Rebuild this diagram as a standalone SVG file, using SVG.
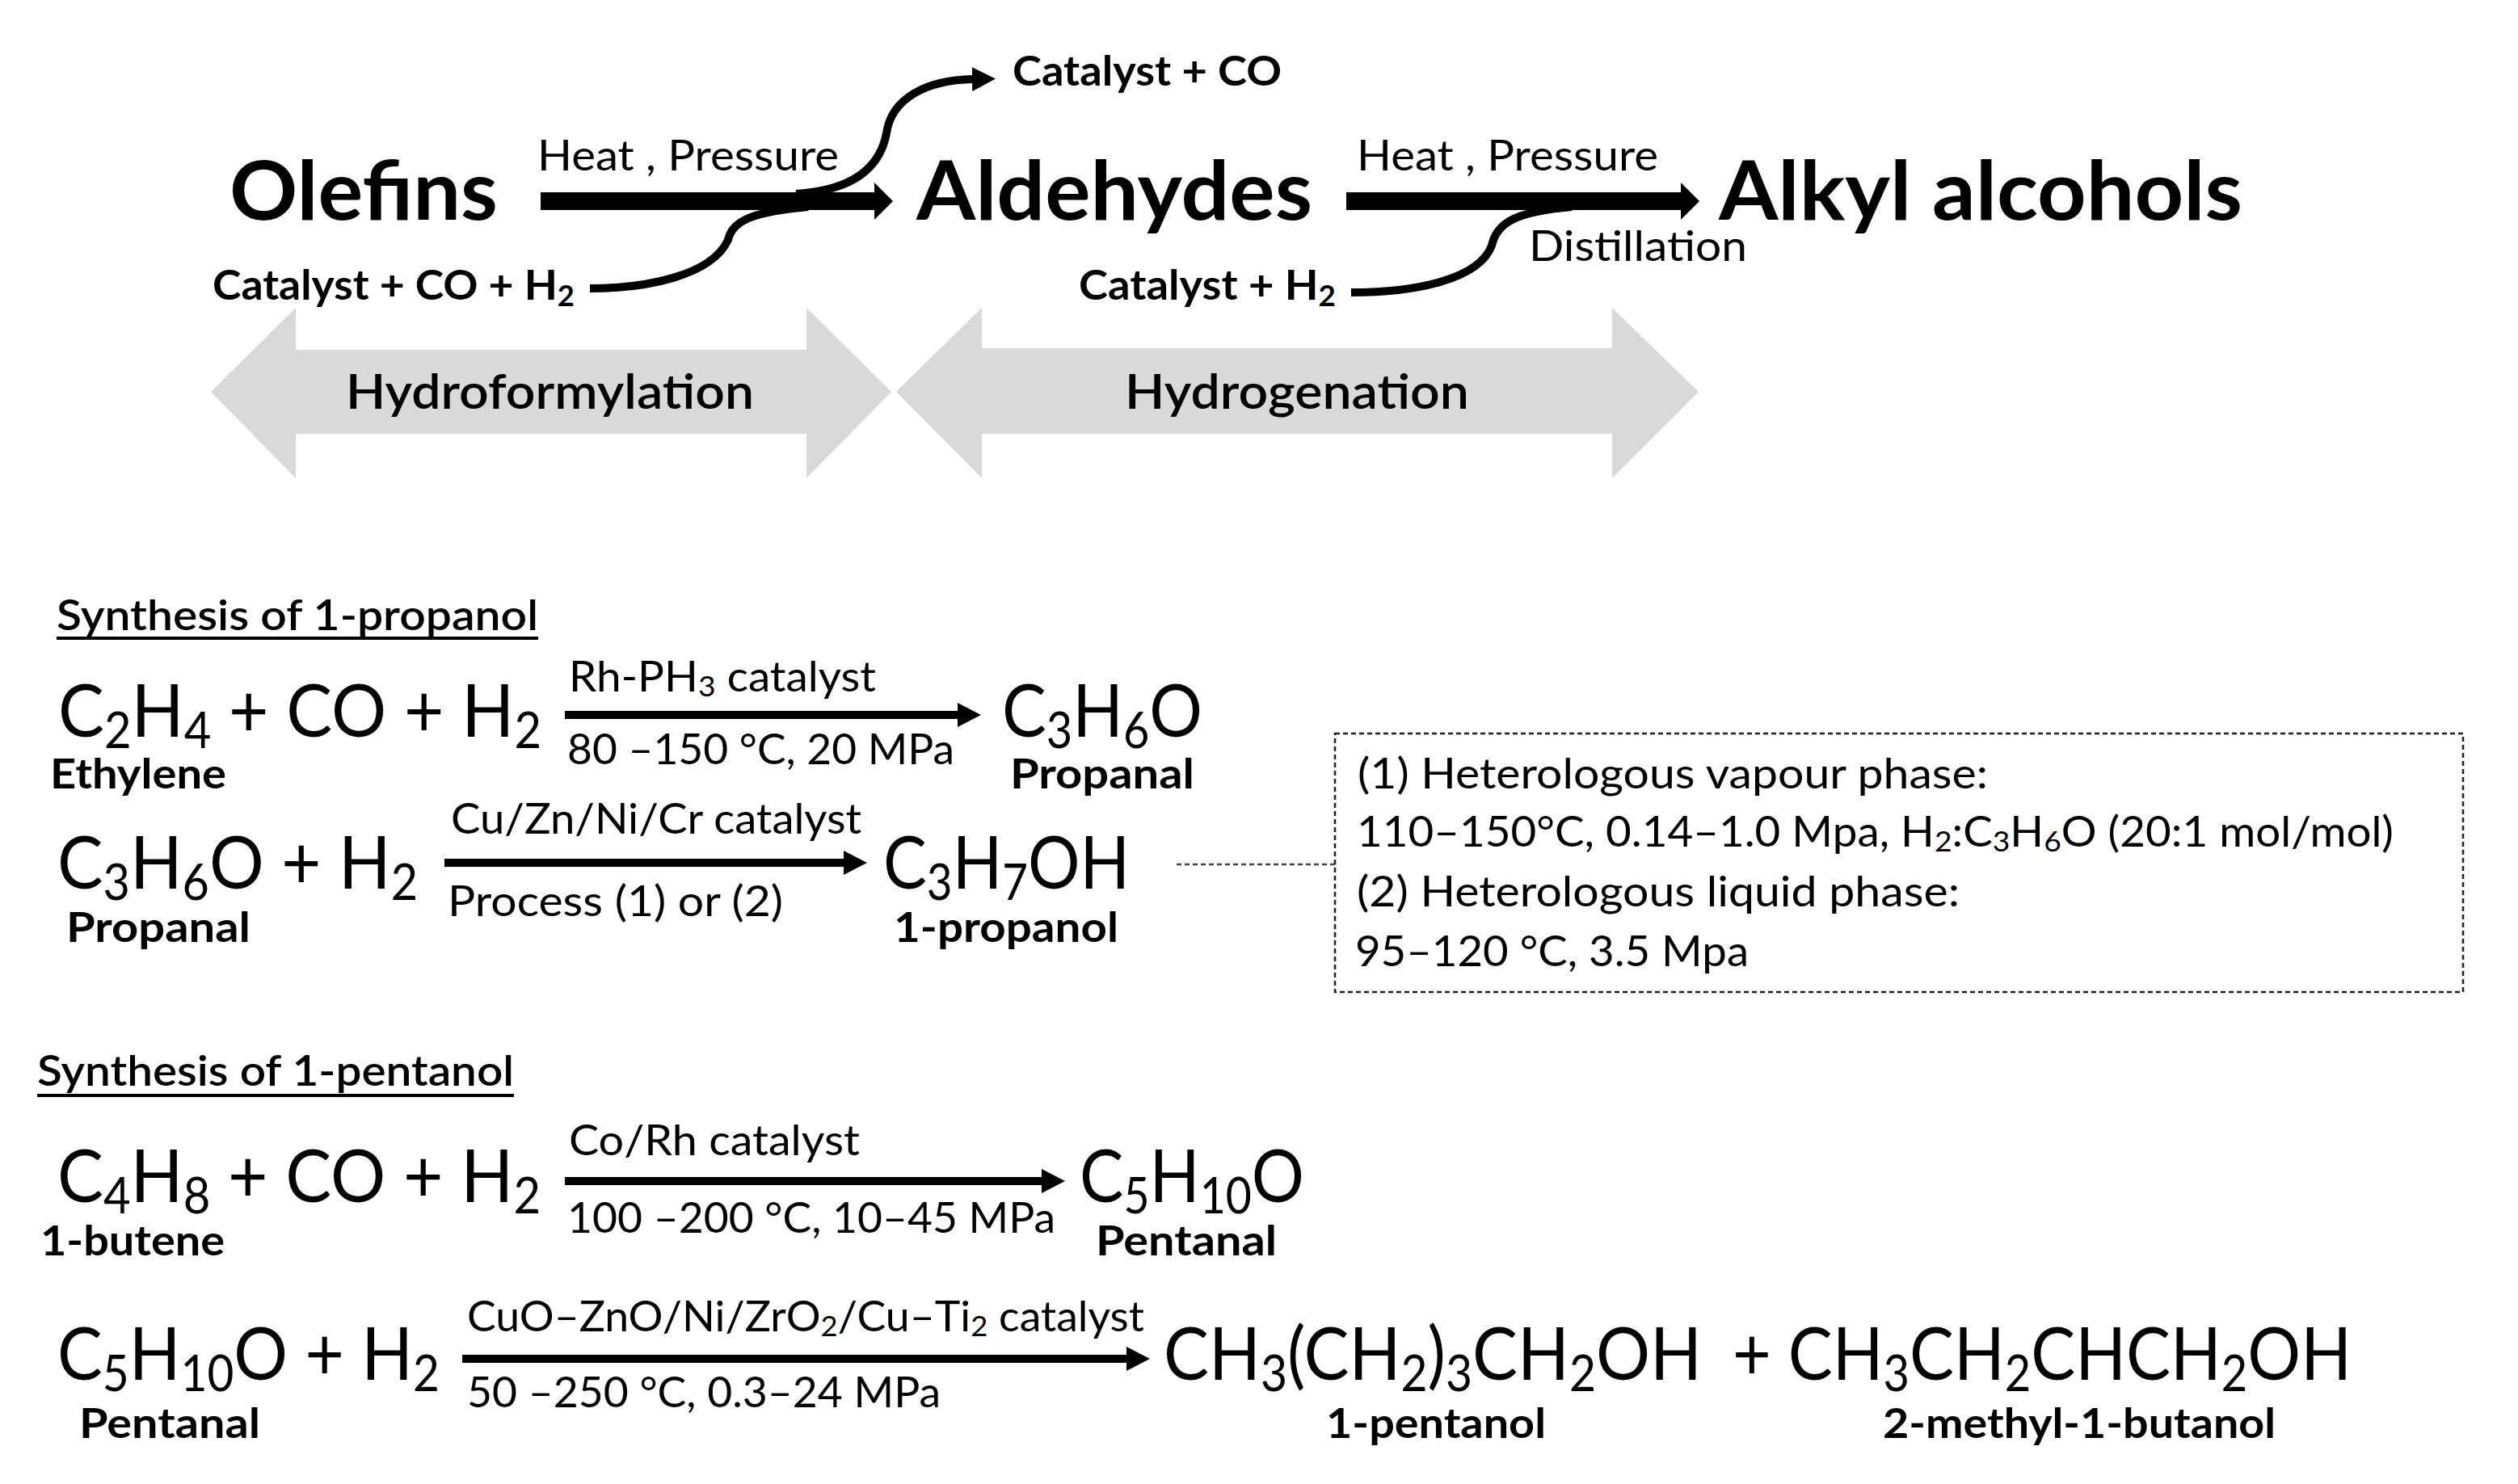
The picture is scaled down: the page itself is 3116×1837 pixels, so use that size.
<svg xmlns="http://www.w3.org/2000/svg" width="3116" height="1837" viewBox="0 0 3116 1837">
<style>
text{font-family:"Lato","Carlito","Liberation Sans",sans-serif;fill:#000;font-weight:400}
.b{font-weight:700}
.big{font-size:102px;font-weight:700}
.lab{font-size:52px}
.sub{font-size:68%}
.chem{font-size:92px}
.gray{fill:#d9d9d9}
.line{fill:none;stroke:#000}
.thin{stroke-width:10}
</style>
<defs>
<marker id="hT" markerUnits="userSpaceOnUse" markerWidth="24" markerHeight="46" refX="1" refY="23" orient="auto"><path d="M0,0L23,23L0,46Z"/></marker>
<marker id="hR" markerUnits="userSpaceOnUse" markerWidth="30" markerHeight="30" refX="1" refY="15" orient="auto"><path d="M0,0L29,15L0,30Z"/></marker>
</defs>
<g id="connectors">
<path class="gray" d="M261,485L366,381V433H998V381L1103,485L998,592V537H366V592Z" id="band-hydroformylation"/>
<path class="gray" d="M1109,485L1215,381V431H1995V381L2102,485L1995,592V537H1215V592Z" id="band-hydrogenation"/>
<line class="line" x1="669" y1="249" x2="1083" y2="249" stroke-width="22" marker-end="url(#hT)"/>
<line class="line" x1="1666" y1="249" x2="2081" y2="249" stroke-width="22" marker-end="url(#hT)"/>
<path class="line thin" d="M730,357C798,357 880,342 901,297C906,272 935,262 1000,256"/>
<path class="line thin" d="M985,240C1050,236 1088,212 1097,165C1103,122 1146,99 1204,98" marker-end="url(#hR)"/>
<path class="line thin" d="M1672,362C1752,362 1830,346 1846,304C1852,276 1875,262 1945,256"/>
<line class="line" x1="699" y1="885" x2="1186" y2="885" stroke-width="10" marker-end="url(#hR)"/>
<line class="line" x1="550" y1="1068" x2="1045" y2="1068" stroke-width="10" marker-end="url(#hR)"/>
<line class="line" x1="699" y1="1462" x2="1290" y2="1462" stroke-width="10" marker-end="url(#hR)"/>
<line class="line" x1="572" y1="1682" x2="1395" y2="1682" stroke-width="10" marker-end="url(#hR)"/>
<line x1="1456" y1="1070" x2="1652" y2="1070" stroke="#444" stroke-width="2.5" stroke-dasharray="6 4"/>
</g>
<g id="olefins"><text class="big" x="284" y="272" textLength="332" lengthAdjust="spacingAndGlyphs">Olefins</text></g>
<g id="aldehydes"><text class="big" x="1134" y="272" textLength="490" lengthAdjust="spacingAndGlyphs">Aldehydes</text></g>
<g id="alkyl-alcohols"><text class="big" x="2127" y="272" textLength="648" lengthAdjust="spacingAndGlyphs">Alkyl alcohols</text></g>
<g id="labels-top">
<text class="lab" x="665" y="211" textLength="373" lengthAdjust="spacingAndGlyphs">Heat , Pressure</text>
<text class="lab" x="1679" y="211" textLength="373" lengthAdjust="spacingAndGlyphs">Heat , Pressure</text>
<text class="lab" x="1892" y="323" textLength="270" lengthAdjust="spacingAndGlyphs">Distillation</text>
<text class="lab b" x="1253" y="106" textLength="333" lengthAdjust="spacingAndGlyphs">Catalyst + CO</text>
<text class="lab b" x="263" y="371" textLength="448" lengthAdjust="spacingAndGlyphs">Catalyst + CO + H<tspan class="sub" dy="8">2</tspan></text>
<text class="lab b" x="1335" y="371" textLength="318" lengthAdjust="spacingAndGlyphs">Catalyst + H<tspan class="sub" dy="8">2</tspan></text>
</g>
<g id="hydroformylation"><text x="428" y="506" font-size="60" textLength="505" lengthAdjust="spacingAndGlyphs" style="font-weight:600">Hydroformylation</text></g>
<g id="hydrogenation"><text x="1392" y="506" font-size="60" textLength="426" lengthAdjust="spacingAndGlyphs" style="font-weight:600">Hydrogenation</text></g>
<g id="heading-propanol"><text class="lab" x="70" y="780" textLength="596" lengthAdjust="spacingAndGlyphs" style="font-weight:600">Synthesis of 1-propanol</text><rect x="70" y="788" width="596" height="4"/></g>
<g id="propanol-step1">
<text class="chem" x="72" y="912" textLength="598" lengthAdjust="spacingAndGlyphs">C<tspan class="sub" dy="14">2</tspan><tspan dy="-14">H</tspan><tspan class="sub" dy="14">4</tspan><tspan dy="-14"> + CO + H</tspan><tspan class="sub" dy="14">2</tspan></text>
<text class="lab b" x="62" y="976" textLength="218" lengthAdjust="spacingAndGlyphs">Ethylene</text>
<text class="lab" x="704" y="856" textLength="380" lengthAdjust="spacingAndGlyphs">Rh-PH<tspan class="sub" dy="6">3</tspan><tspan dy="-6"> catalyst</tspan></text>
<text class="lab" x="702" y="946" textLength="479" lengthAdjust="spacingAndGlyphs">80 –150 °C, 20 MPa</text>
<text class="chem" x="1240" y="912" textLength="248" lengthAdjust="spacingAndGlyphs">C<tspan class="sub" dy="14">3</tspan><tspan dy="-14">H</tspan><tspan class="sub" dy="14">6</tspan><tspan dy="-14">O</tspan></text>
<text class="lab b" x="1250" y="976" textLength="228" lengthAdjust="spacingAndGlyphs">Propanal</text>
</g>
<g id="propanol-step2">
<text class="chem" x="71" y="1100" textLength="446" lengthAdjust="spacingAndGlyphs">C<tspan class="sub" dy="14">3</tspan><tspan dy="-14">H</tspan><tspan class="sub" dy="14">6</tspan><tspan dy="-14">O + H</tspan><tspan class="sub" dy="14">2</tspan></text>
<text class="lab b" x="82" y="1166" textLength="228" lengthAdjust="spacingAndGlyphs">Propanal</text>
<text class="lab" x="558" y="1032" textLength="508" lengthAdjust="spacingAndGlyphs">Cu/Zn/Ni/Cr catalyst</text>
<text class="lab" x="554" y="1134" textLength="415" lengthAdjust="spacingAndGlyphs">Process (1) or (2)</text>
<text class="chem" x="1093" y="1100" textLength="305" lengthAdjust="spacingAndGlyphs">C<tspan class="sub" dy="14">3</tspan><tspan dy="-14">H</tspan><tspan class="sub" dy="14">7</tspan><tspan dy="-14">OH</tspan></text>
<text class="lab b" x="1106" y="1166" textLength="278" lengthAdjust="spacingAndGlyphs">1-propanol</text>
</g>
<g id="conditions-box">
<rect x="1652" y="908" width="1396" height="320" fill="none" stroke="#222" stroke-width="2.5" stroke-dasharray="6 4"/>
<text class="lab" x="1680" y="976" textLength="780" lengthAdjust="spacingAndGlyphs">(1) Heterologous vapour phase:</text>
<text class="lab" x="1679" y="1048" textLength="1283" lengthAdjust="spacingAndGlyphs">110–150°C, 0.14–1.0 Mpa, H<tspan class="sub" dy="6">2</tspan><tspan dy="-6">:C</tspan><tspan class="sub" dy="6">3</tspan><tspan dy="-6">H</tspan><tspan class="sub" dy="6">6</tspan><tspan dy="-6">O (20:1 mol/mol)</tspan></text>
<text class="lab" x="1679" y="1122" textLength="746" lengthAdjust="spacingAndGlyphs">(2) Heterologous liquid phase:</text>
<text class="lab" x="1677" y="1196" textLength="487" lengthAdjust="spacingAndGlyphs">95–120 °C, 3.5 Mpa</text>
</g>
<g id="heading-pentanol"><text class="lab" x="46" y="1344" textLength="590" lengthAdjust="spacingAndGlyphs" style="font-weight:600">Synthesis of 1-pentanol</text><rect x="46" y="1354" width="590" height="4"/></g>
<g id="pentanol-step1">
<text class="chem" x="71" y="1488" textLength="598" lengthAdjust="spacingAndGlyphs">C<tspan class="sub" dy="14">4</tspan><tspan dy="-14">H</tspan><tspan class="sub" dy="14">8</tspan><tspan dy="-14"> + CO + H</tspan><tspan class="sub" dy="14">2</tspan></text>
<text class="lab b" x="50" y="1554" textLength="228" lengthAdjust="spacingAndGlyphs">1-butene</text>
<text class="lab" x="704" y="1430" textLength="360" lengthAdjust="spacingAndGlyphs">Co/Rh catalyst</text>
<text class="lab" x="702" y="1526" textLength="604" lengthAdjust="spacingAndGlyphs">100 –200 °C, 10–45 MPa</text>
<text class="chem" x="1336" y="1488" textLength="278" lengthAdjust="spacingAndGlyphs">C<tspan class="sub" dy="14">5</tspan><tspan dy="-14">H</tspan><tspan class="sub" dy="14">10</tspan><tspan dy="-14">O</tspan></text>
<text class="lab b" x="1356" y="1554" textLength="224" lengthAdjust="spacingAndGlyphs">Pentanal</text>
</g>
<g id="pentanol-step2">
<text class="chem" x="71" y="1708" textLength="473" lengthAdjust="spacingAndGlyphs">C<tspan class="sub" dy="14">5</tspan><tspan dy="-14">H</tspan><tspan class="sub" dy="14">10</tspan><tspan dy="-14">O + H</tspan><tspan class="sub" dy="14">2</tspan></text>
<text class="lab b" x="98" y="1780" textLength="224" lengthAdjust="spacingAndGlyphs">Pentanal</text>
<text class="lab" x="578" y="1648" textLength="838" lengthAdjust="spacingAndGlyphs">CuO–ZnO/Ni/ZrO<tspan class="sub" dy="6">2</tspan><tspan dy="-6">/Cu–Ti</tspan><tspan class="sub" dy="6">2</tspan><tspan dy="-6"> catalyst</tspan></text>
<text class="lab" x="578" y="1742" textLength="586" lengthAdjust="spacingAndGlyphs">50 –250 °C, 0.3–24 MPa</text>
<text class="chem" x="1440" y="1708" textLength="666" lengthAdjust="spacingAndGlyphs">CH<tspan class="sub" dy="14">3</tspan><tspan dy="-14">(CH</tspan><tspan class="sub" dy="14">2</tspan><tspan dy="-14">)</tspan><tspan class="sub" dy="14">3</tspan><tspan dy="-14">CH</tspan><tspan class="sub" dy="14">2</tspan><tspan dy="-14">OH</tspan></text>
<text class="chem" x="2144" y="1708" textLength="766" lengthAdjust="spacingAndGlyphs">+ CH<tspan class="sub" dy="14">3</tspan><tspan dy="-14">CH</tspan><tspan class="sub" dy="14">2</tspan><tspan dy="-14">CHCH</tspan><tspan class="sub" dy="14">2</tspan><tspan dy="-14">OH</tspan></text>
<text class="lab b" x="1641" y="1780" textLength="272" lengthAdjust="spacingAndGlyphs">1-pentanol</text>
<text class="lab b" x="2330" y="1780" textLength="486" lengthAdjust="spacingAndGlyphs">2-methyl-1-butanol</text>
</g>
</svg>
